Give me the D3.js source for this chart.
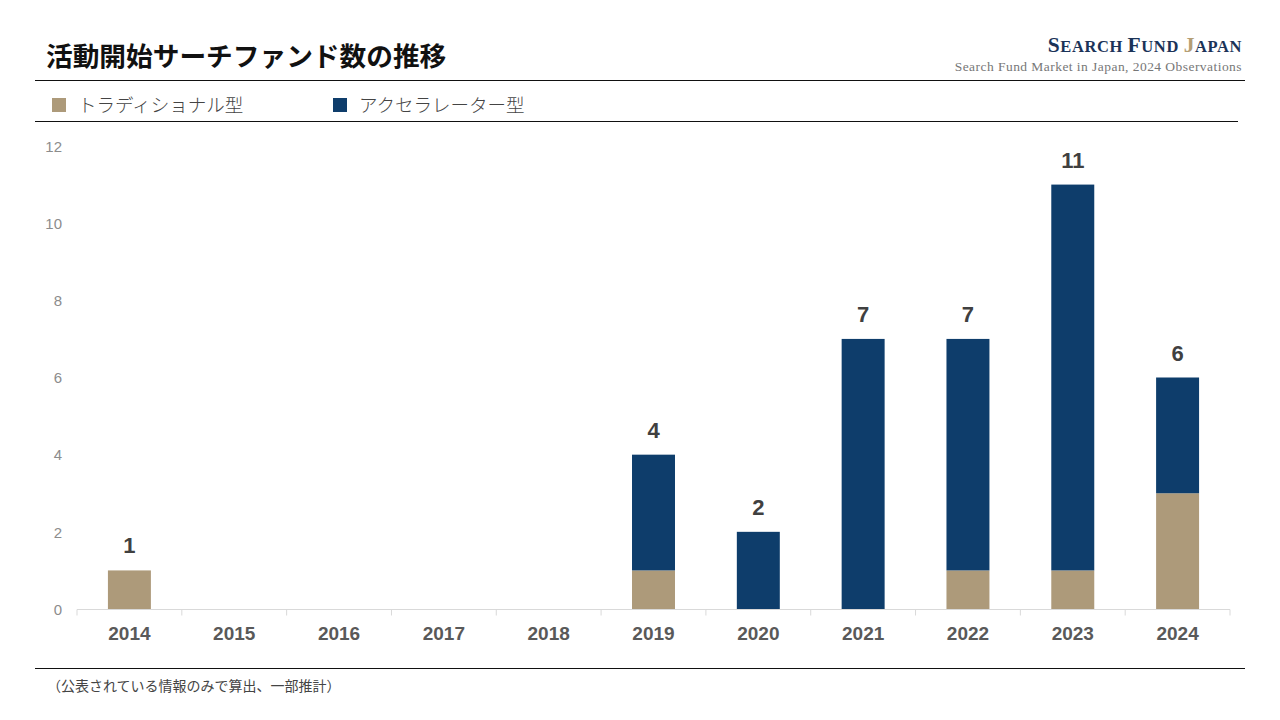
<!DOCTYPE html>
<html><head><meta charset="utf-8">
<script src="https://cdn.jsdelivr.net/npm/d3@7"></script>
<style>
body{margin:0;background:#fff;}
svg{display:block;}
</style></head>
<body>
<svg id="c" width="1280" height="720"></svg>
<script>
const years = ["2014","2015","2016","2017","2018","2019","2020","2021","2022","2023","2024"];
const traditional = [1,0,0,0,0,1,0,0,1,1,3];
const accelerator = [0,0,0,0,0,3,2,7,6,10,3];
const seriesNames = ["トラディショナル型","アクセラレーター型"];
const yTicks = [0,2,4,6,8,10,12];

const colors = ["#AD9A7A","#0E3D6B"];
const svg = d3.select("#c");
const jp = "'Noto Sans CJK JP', sans-serif";

// header
svg.append("text").attr("x",46).attr("y",66).text("活動開始サーチファンド数の推移")
  .attr("font-family",jp).attr("font-weight",700).attr("font-size",26.7).attr("fill","#111");
const logo = svg.append("text").attr("x",1242).attr("y",52).attr("text-anchor","end")
  .attr("font-family","'Liberation Serif', serif").attr("font-size",21.5).attr("font-weight",700)
  .attr("fill","#1B3358").attr("letter-spacing",0.6);
logo.append("tspan").text("S");
logo.append("tspan").attr("font-size",16.5).text("EARCH ");
logo.append("tspan").text("F");
logo.append("tspan").attr("font-size",16.5).text("UND ");
logo.append("tspan").attr("fill","#B59E74").text("J");
logo.append("tspan").attr("font-size",16.5).text("APAN");
svg.append("text").attr("x",1242).attr("y",71).attr("text-anchor","end")
  .attr("font-family","'Liberation Serif', serif").attr("font-size",13.5).attr("fill","#777")
  .attr("letter-spacing",0.45)
  .text("Search Fund Market in Japan, 2024 Observations");

svg.append("line").attr("x1",35).attr("x2",1245).attr("y1",80.5).attr("y2",80.5).attr("stroke","#111").attr("stroke-width",1.2);
svg.append("line").attr("x1",35).attr("x2",1238).attr("y1",121.5).attr("y2",121.5).attr("stroke","#111").attr("stroke-width",1.2);
svg.append("line").attr("x1",35).attr("x2",1245).attr("y1",668.5).attr("y2",668.5).attr("stroke","#111").attr("stroke-width",1.2);

// legend
const legX = [52,333];
seriesNames.forEach((n,i)=>{
  svg.append("rect").attr("x",legX[i]).attr("y",98).attr("width",14).attr("height",14).attr("fill",colors[i]);
  svg.append("text").attr("x",legX[i]+26).attr("y",112).text(n)
    .attr("font-family",jp).attr("font-weight",300).attr("font-size",18.5).attr("fill","#444");
});

// footnote
svg.append("text").attr("x",47).attr("y",691).text("（公表されている情報のみで算出、一部推計）")
  .attr("font-family",jp).attr("font-size",14).attr("fill","#444");

// chart
const x = d3.scaleBand().domain(years).range([77,1230]).paddingInner(0.59).paddingOuter(0.295);
const y = d3.scaleLinear().domain([0,12]).range([609,146]);

const data = years.map((yr,i)=>({year:yr, t:traditional[i], a:accelerator[i]}));
const stack = d3.stack().keys(["t","a"])(data);

const g = svg.append("g");
stack.forEach((s,si)=>{
  g.selectAll(null).data(s).enter().append("rect")
    .attr("x",d=>x(d.data.year)).attr("width",x.bandwidth())
    .attr("y",d=>y(d[1])).attr("height",d=>y(d[0])-y(d[1]))
    .attr("fill",colors[si]);
});

// totals
g.selectAll(null).data(data).enter().append("text")
  .attr("x",d=>x(d.year)+x.bandwidth()/2).attr("y",d=>y(d.t+d.a)-17)
  .attr("text-anchor","middle").text(d=>(d.t+d.a)>0?d.t+d.a:"")
  .attr("font-family","'Liberation Sans', sans-serif").attr("font-weight",700).attr("font-size",22).attr("fill","#404040");

// y axis
const ya = svg.append("g").attr("transform","translate(62,0)")
  .call(d3.axisLeft(y).tickValues(yTicks).tickSize(0).tickPadding(0));
ya.select(".domain").remove();
ya.selectAll("text").attr("font-family","'Liberation Sans', sans-serif").attr("font-size",15).attr("fill","#8c8c8c").attr("dy","0.35em");

// x axis
const xa = svg.append("g").attr("transform","translate(0,609.5)")
  .call(d3.axisBottom(x).tickSize(0).tickPadding(17));
xa.select(".domain").attr("stroke","#d9d9d9").attr("d","M77,0H1230");
xa.selectAll("text").attr("font-family","'Liberation Sans Narrow', 'Liberation Sans', sans-serif")
  .attr("font-weight",700).attr("font-size",19).attr("fill","#595959");
const step = x.step();
const bounds = d3.range(years.length+1).map(i=>77+i*step);
xa.selectAll(".bt").data(bounds).enter().append("line")
  .attr("x1",d=>d).attr("x2",d=>d).attr("y1",0).attr("y2",6).attr("stroke","#d9d9d9");
</script>
</body></html>
